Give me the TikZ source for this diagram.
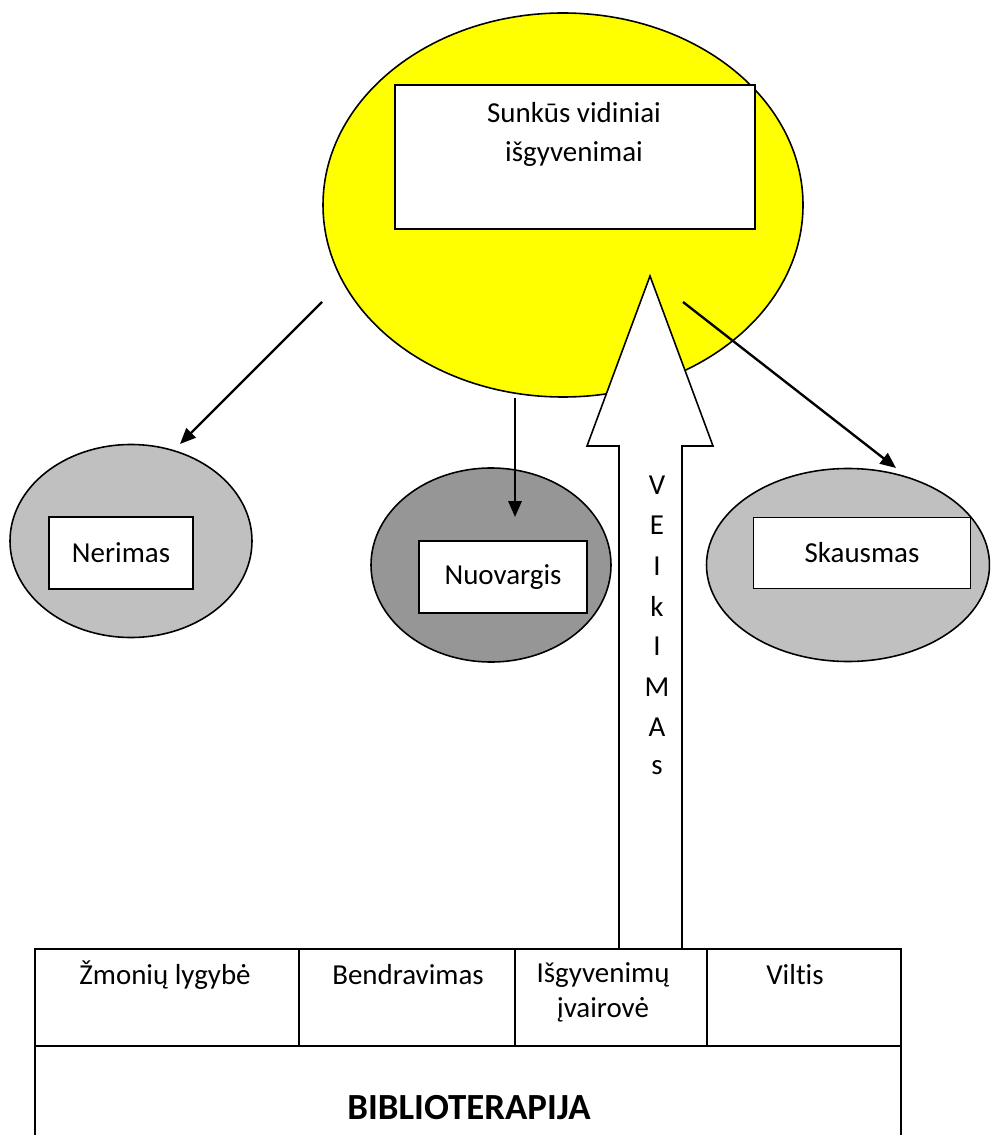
\documentclass[tikz,border=0pt]{standalone}
\usepackage{fontspec}
\setmainfont{Carlito}[Ligatures=NoCommon]
\usetikzlibrary{shapes.geometric,arrows.meta}
\newlength{\pxu}
\setlength{\pxu}{0.38pt}
\definecolor{sunYL}{RGB}{255,255,0}
\definecolor{lightGR}{RGB}{192,192,192}
\definecolor{darkGR}{RGB}{150,150,150}

\begin{document}
\begin{tikzpicture}[x={(\pxu,0)},y={(0,-\pxu)},
                    ovalEL/.style={ellipse,
                                   draw=black,
                                   line width=0.6pt,
                                   inner sep=0pt},
                    boxND/.style={rectangle,
                                  draw=black,
                                  fill=white,
                                  line width=0.6pt,
                                  inner sep=0pt,
                                  font=\fontsize{11}{14}\selectfont},
                    cellND/.style={rectangle,
                                   draw=black,
                                   line width=0.6pt,
                                   inner sep=0pt,
                                   minimum height=97\pxu},
                    txtND/.style={inner sep=0pt,
                                  align=center,
                                  font=\fontsize{11}{13.3}\selectfont},
                    conn/.style={-{Triangle[length=6pt,width=5pt]},
                                 line width=0.9pt},
                    blkAR/.style={draw=black,
                                  fill=white,
                                  line width=0.6pt,
                                  line join=miter}]
    \useasboundingbox (0,0) rectangle (990,1135);
    \clip (0,0) rectangle (990,1135);

    \node[ovalEL, fill=sunYL, minimum width=480\pxu, minimum height=384\pxu] (sunEL) at (563,205) {};
    \node[boxND, minimum width=360\pxu, minimum height=144\pxu] (sunBX) at (575,157) {};
    \node[txtND, font=\fontsize{11}{14.8}\selectfont] (sunTX) at (574,134) {Sunkūs vidiniai\\išgyvenimai};

    \node[ovalEL, fill=lightGR, minimum width=242\pxu, minimum height=193\pxu] (nerEL) at (131,541) {};
    \node[ovalEL, fill=darkGR,  minimum width=240\pxu, minimum height=194\pxu] (nuoEL) at (491,565) {};
    \node[ovalEL, fill=lightGR, minimum width=283\pxu, minimum height=193\pxu] (skaEL) at (848,565) {};

    \node[boxND, minimum width=144\pxu, minimum height=72\pxu] (nerBX) at (121,553) {Nerimas};
    \node[boxND, minimum width=168\pxu, minimum height=72\pxu] (nuoBX) at (503,577) {Nuovargis};
    \node[boxND, minimum width=217\pxu, minimum height=71\pxu] (skaBX) at (862,553) {Skausmas};

    \coordinate (fromL) at (322,302);
    \coordinate (toL)   at (180,444);
    \coordinate (fromM) at (515,398);
    \coordinate (toM)   at (515,517);
    \coordinate (fromR) at (683,302);
    \coordinate (toR)   at (896,468);
    \draw[conn] (fromL) -- (toL);
    \draw[conn] (fromM) -- (toM);
    \draw[conn] (fromR) -- (toR);

    \draw[blkAR] (650,276) -- (713,446) -- (682,446) -- (682,949)
                 -- (619,949) -- (619,446) -- (587,446) -- cycle;
    \foreach \ch [count=\i] in {V,E,I,k,I,M,A,s}
        \node[txtND] (vk\i) at (657,{485+40.4*(\i-1)}) {\ch};

    \node[cellND, minimum width=264\pxu] (c1) at (167,997.5) {};
    \node[cellND, minimum width=216\pxu] (c2) at (407,997.5) {};
    \node[cellND, minimum width=192\pxu] (c3) at (611,997.5) {};
    \node[cellND, minimum width=194\pxu] (c4) at (804,997.5) {};
    \node[cellND, minimum width=866\pxu, minimum height=108\pxu] (bib) at (468,1100) {};

    \node[txtND] (t1) at (165,975) {Žmonių lygybė};
    \node[txtND] (t2) at (408,975) {Bendravimas};
    \node[txtND] (t3) at (603,992) {Išgyvenimų\\įvairovė};
    \node[txtND] (t4) at (795,975) {Viltis};
    \node[txtND, font=\fontsize{14}{17}\selectfont\bfseries] (bibTX) at (469,1108) {BIBLIOTERAPIJA};
\end{tikzpicture}
\end{document}
